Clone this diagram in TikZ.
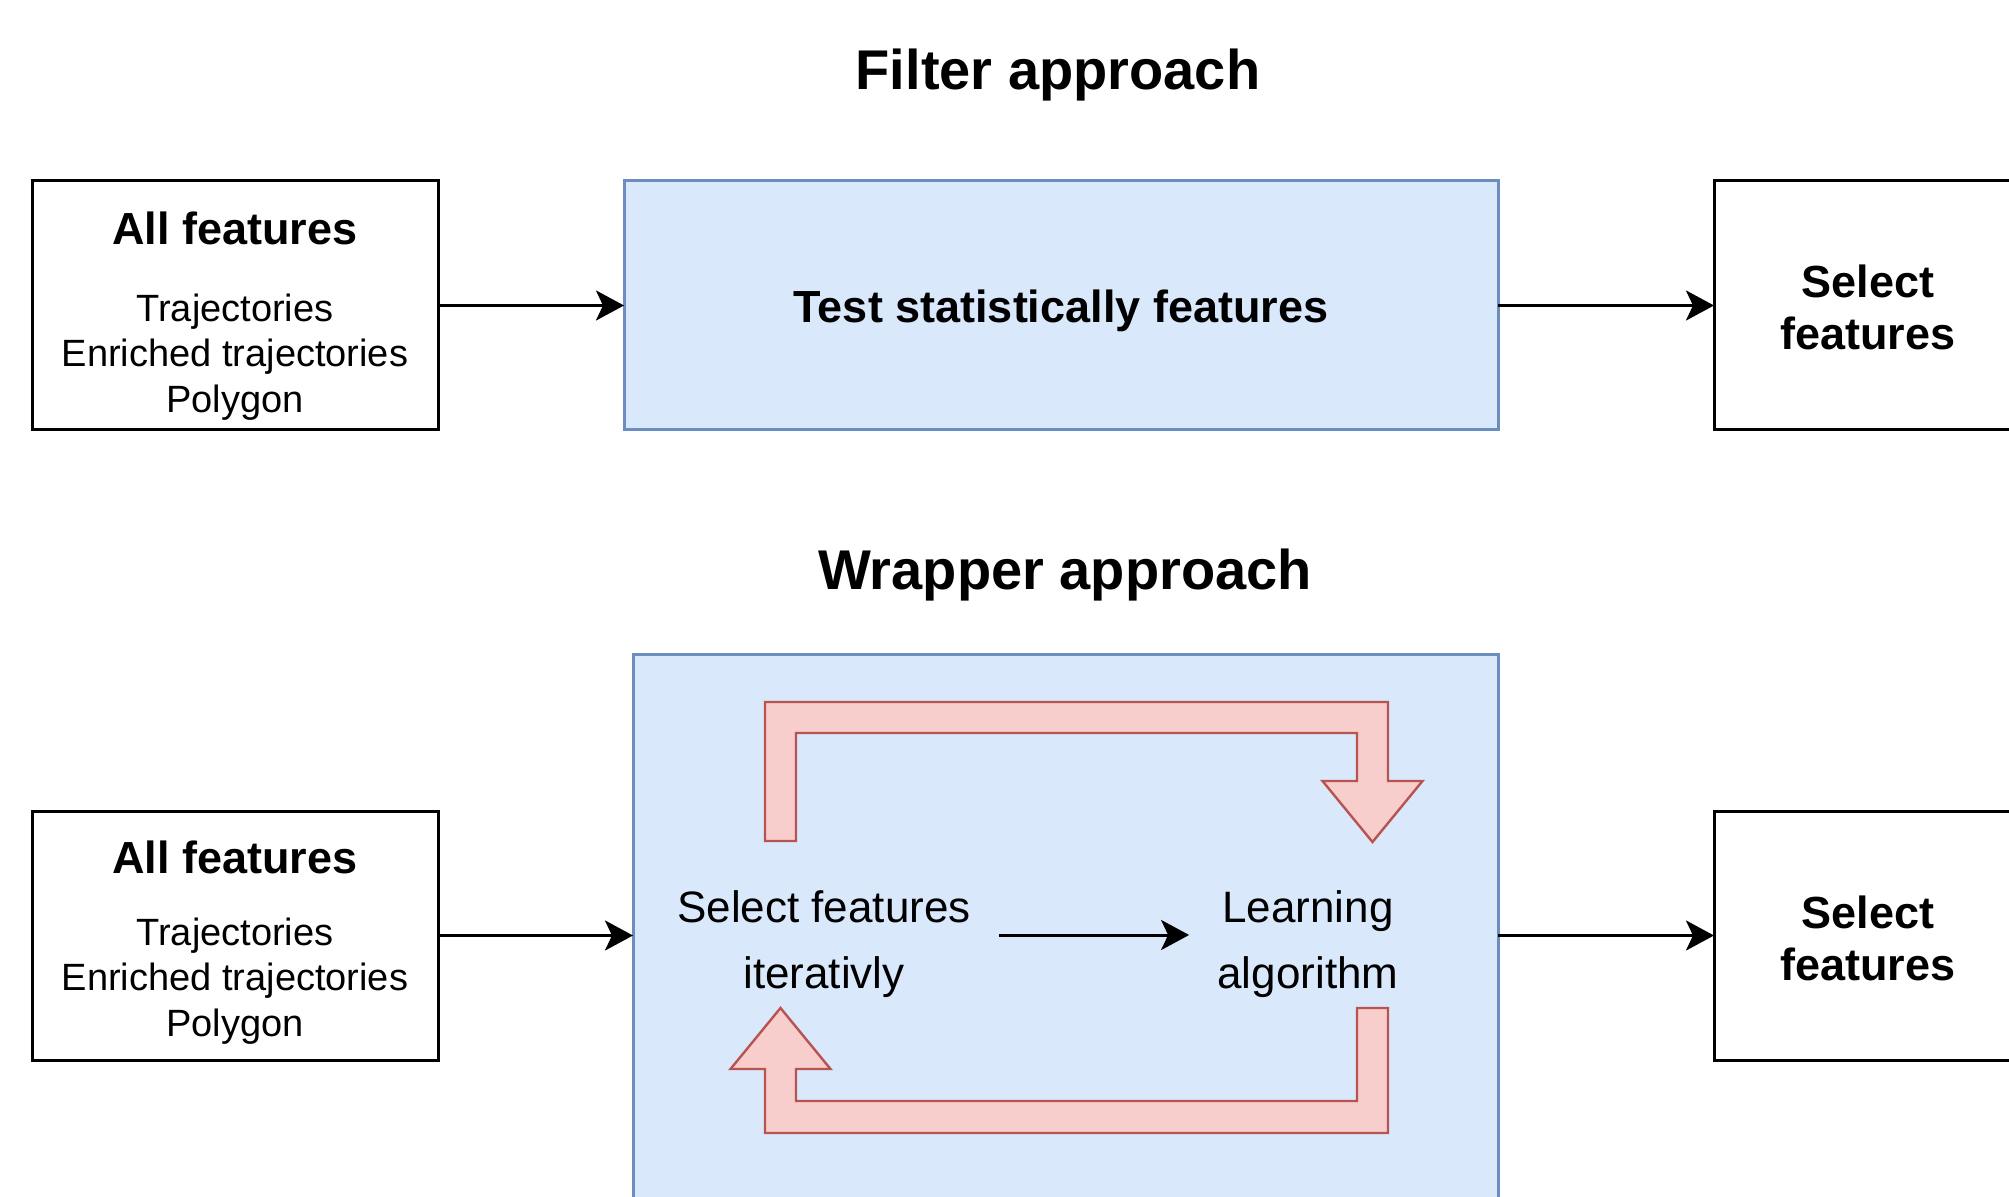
\documentclass[tikz,border=0pt]{standalone}
\usepackage{fontspec}
\setmainfont{Liberation Sans}
\usetikzlibrary{arrows.meta}
\definecolor{bluefill}{HTML}{DAE8FC}
\definecolor{bluedraw}{HTML}{6C8EBF}
\definecolor{redfill}{HTML}{F8CECC}
\definecolor{reddraw}{HTML}{B85450}
\tikzset{
 plainbox/.style={draw=black, line width=1.5pt, fill=white, rectangle, inner sep=0pt, outer sep=0pt, anchor=north west},
 bluebox/.style={draw=bluedraw, fill=bluefill, line width=1.5pt, rectangle, inner sep=0pt, outer sep=0pt, anchor=north west},
 arr/.style={line width=1.5pt, -{Stealth[length=14pt,width=15pt,inset=3.5pt]}},
 bigarrow/.style={draw=reddraw, fill=redfill, line width=1.2pt, line join=miter},
 titletxt/.style={font=\fontsize{28}{34}\selectfont\bfseries},
 boldtxt/.style={font=\fontsize{22.5}{26}\selectfont\bfseries, align=center},
 smalltxt/.style={font=\fontsize{19}{22.75}\selectfont, align=center},
 innertxt/.style={font=\fontsize{22}{33}\selectfont, align=center, inner xsep=14pt},
}
\begin{document}
\begin{tikzpicture}[x=0.5pt,y=-0.5pt]
\useasboundingbox (0,0) rectangle (2009,1197);
\clip (0,0) rectangle (2009,1197);
\fill[white] (0,0) rectangle (2009,1197);

% Filter approach
\node[titletxt] (t1) at (1058,75) {Filter approach};
\node[plainbox, minimum width=203pt, minimum height=124.5pt] (all1) at (32,181) {};
\node[boldtxt] (all1h) at (235,228) {All features};
\node[smalltxt] (all1t) at (235,357) {Trajectories\\Enriched trajectories\\Polygon};
\node[bluebox, minimum width=437pt, minimum height=124.5pt] (test) at (624,181) {};
\node[boldtxt] (testt) at ([yshift=-2.5pt]test.center) {Test statistically features};
\node[plainbox, minimum width=170pt, minimum height=124.5pt] (sel1) at (1714,181) {};
\node[boldtxt] (sel1t) at (1868,307.5) {Select\\features};
\draw[arr] (all1.east) -- (test.west);
\draw[arr] (test.east) -- (sel1.west);

% Wrapper approach
\node[titletxt] (t2) at (1065,575) {Wrapper approach};
\node[plainbox, minimum width=203pt, minimum height=124.5pt] (all2) at (32,811) {};
\node[boldtxt] (all2h) at (235,857) {All features};
\node[smalltxt] (all2t) at (235,981) {Trajectories\\Enriched trajectories\\Polygon};
\node[bluebox, minimum width=432.5pt, minimum height=290pt] (wrap) at (633,655) {};
\node[plainbox, minimum width=170pt, minimum height=124.5pt] (sel2) at (1714,811) {};
\node[boldtxt] (sel2t) at (1868,938) {Select\\features};
\draw[arr] (all2.east) -- (all2.east -| wrap.west);
\draw[arr] (all2.east -| wrap.east) -- (sel2.west);

% inner loop
\draw[bigarrow] (765,841) -- (765,702) -- (1388,702) -- (1388,781) -- (1422.5,781)
  -- (1372.5,842) -- (1322.5,781) -- (1357,781) -- (1357,733) -- (796,733) -- (796,841) -- cycle;
\draw[bigarrow] (1388,1008) -- (1388,1133) -- (765,1133) -- (765,1069) -- (730.5,1069)
  -- (780.5,1008) -- (830.5,1069) -- (796,1069) -- (796,1101) -- (1357,1101) -- (1357,1008) -- cycle;
\node[innertxt] (sfi) at (824,944) {Select features\\iterativly};
\node[innertxt] (la) at (1308,944) {Learning\\algorithm};
\draw[arr] ([yshift=4.5pt]sfi.east) -- ([yshift=4.5pt]la.west);
\end{tikzpicture}
\end{document}
